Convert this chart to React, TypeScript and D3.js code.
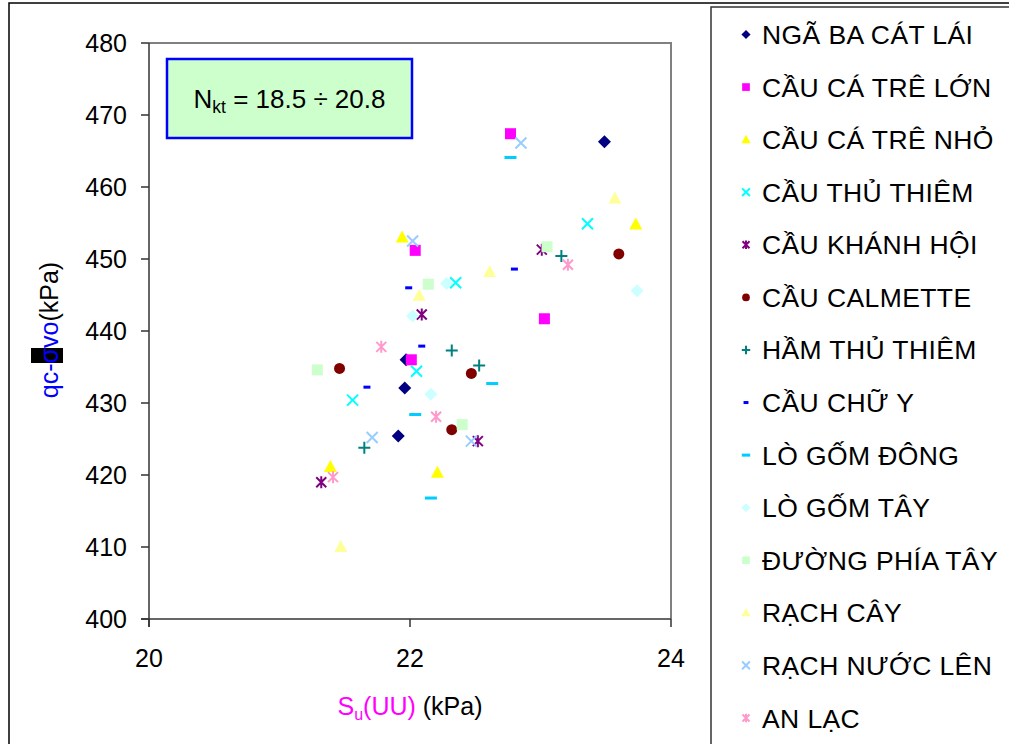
import * as d3 from 'd3';

// ─── Data ───────────────────────────────────────────────────

const seriesNames = [
  'NGÃ BA CÁT LÁI',
  'CẦU CÁ TRÊ LỚN',
  'CẦU CÁ TRÊ NHỎ',
  'CẦU THỦ THIÊM',
  'CẦU KHÁNH HỘI',
  'CẦU CALMETTE',
  'HẦM THỦ THIÊM',
  'CẦU CHỮ Y',
  'LÒ GỐM ĐÔNG',
  'LÒ GỐM TÂY',
  'ĐƯỜNG PHÍA TÂY',
  'RẠCH CÂY',
  'RẠCH NƯỚC LÊN',
  'AN LẠC',
];

// Su(UU), kPa
const suValues = [
  [23.49, 21.97, 21.96, 21.91],
  [22.77, 22.04, 22.01, 23.03],
  [21.94, 23.73, 21.39, 22.21],
  [23.36, 22.35, 22.05, 21.56],
  [23.01, 22.09, 22.52, 21.32],
  [23.6, 21.46, 22.47, 22.32],
  [23.16, 22.32, 22.53, 21.65],
  [22.8, 21.99, 22.09, 21.67],
  [22.77, 22.63, 22.04, 22.16],
  [23.74, 22.28, 22.02, 22.16],
  [23.05, 22.14, 21.29, 22.4],
  [23.57, 22.61, 22.07, 21.47],
  [22.85, 22.02, 21.71, 22.47],
  [23.21, 21.78, 22.2, 21.41],
];

// qc - σvo, kPa
const qValues = [
  [466.3, 436.0, 432.1, 425.4],
  [467.4, 451.2, 436.0, 441.7],
  [453.0, 454.8, 421.1, 420.3],
  [454.9, 446.7, 434.4, 430.4],
  [451.3, 442.3, 424.7, 419.0],
  [450.7, 434.8, 434.1, 426.3],
  [450.4, 437.3, 435.2, 423.8],
  [448.6, 446.0, 437.9, 432.2],
  [464.1, 432.7, 428.4, 416.8],
  [445.6, 446.6, 442.1, 431.2],
  [451.7, 446.5, 434.6, 427.0],
  [458.4, 448.2, 444.9, 410.0],
  [466.1, 452.5, 425.2, 424.7],
  [449.2, 437.8, 428.1, 419.7],
];

const xTicks = [20, 22, 24];
const yTicks = [400, 410, 420, 430, 440, 450, 460, 470, 480];

// ─── Styles ─────────────────────────────────────────────────

const markerStyles = [
  { shape: 'diamond', color: '#000080' },
  { shape: 'square', color: '#FF00FF' },
  { shape: 'triangle', color: '#FFFF00' },
  { shape: 'x', color: '#00FFFF' },
  { shape: 'star', color: '#800080' },
  { shape: 'circle', color: '#800000' },
  { shape: 'plus', color: '#008080' },
  { shape: 'dash', color: '#0000FF' },
  { shape: 'longdash', color: '#00CCFF' },
  { shape: 'diamond', color: '#CCFFFF' },
  { shape: 'square', color: '#CCFFCC' },
  { shape: 'triangle', color: '#FFFF99' },
  { shape: 'x', color: '#99CCFF' },
  { shape: 'star', color: '#FF99CC' },
];

const FONT = '"Liberation Sans", Arial, Helvetica, sans-serif';
const W = 1009;
const H = 744;
const plot = { left: 149, right: 671, top: 43, bottom: 619 };

function Marker({ shape, color, cx, cy, s }: { shape: string; color: string; cx: number; cy: number; s: number }) {
  const sw = 2;
  switch (shape) {
    case 'diamond':
      return <path d={`M${cx},${cy - 6.5 * s}L${cx + 6.5 * s},${cy}L${cx},${cy + 6.5 * s}L${cx - 6.5 * s},${cy}Z`} fill={color} />;
    case 'square':
      return <rect x={cx - 5.5 * s} y={cy - 5.5 * s} width={11 * s} height={11 * s} fill={color} />;
    case 'triangle':
      return <path d={`M${cx},${cy - 7 * s}L${cx + 6.5 * s},${cy + 5 * s}L${cx - 6.5 * s},${cy + 5 * s}Z`} fill={color} />;
    case 'x':
      return (
        <path d={`M${cx - 5.5 * s},${cy - 5.5 * s}L${cx + 5.5 * s},${cy + 5.5 * s}M${cx + 5.5 * s},${cy - 5.5 * s}L${cx - 5.5 * s},${cy + 5.5 * s}`}
          stroke={color} strokeWidth={sw} fill="none" />
      );
    case 'star':
      return (
        <path d={`M${cx - 5 * s},${cy - 5 * s}L${cx + 5 * s},${cy + 5 * s}M${cx + 5 * s},${cy - 5 * s}L${cx - 5 * s},${cy + 5 * s}M${cx},${cy - 6 * s}L${cx},${cy + 6 * s}`}
          stroke={color} strokeWidth={sw} fill="none" />
      );
    case 'circle':
      return <circle cx={cx} cy={cy} r={5.5 * s} fill={color} />;
    case 'plus':
      return (
        <path d={`M${cx - 6 * s},${cy}L${cx + 6 * s},${cy}M${cx},${cy - 6 * s}L${cx},${cy + 6 * s}`}
          stroke={color} strokeWidth={sw} fill="none" />
      );
    case 'dash':
      return <rect x={cx - 3.5 * s} y={cy - 1.5} width={7 * s} height={3} fill={color} />;
    case 'longdash':
      return <rect x={cx - 6 * s} y={cy - 1.5} width={12 * s} height={3} fill={color} />;
    default:
      return null;
  }
}

export default function App() {
  const x = d3.scaleLinear().domain([20, 24]).range([plot.left, plot.right]);
  const y = d3.scaleLinear().domain([400, 480]).range([plot.bottom, plot.top]);

  const legendRow = d3.scalePoint<number>()
    .domain(d3.range(seriesNames.length))
    .range([34.5, 718]);

  return (
    <svg width={W} height={H} style={{ position: 'absolute', left: 0, top: 0, fontFamily: FONT }}>
      <rect x={0} y={0} width={W} height={H} fill="#fff" />
      {/* chart frame */}
      <rect x={9} y={3} width={W + 100} height={H + 100} fill="none" stroke="#000" strokeWidth={1.5} />

      {/* plot area border (top/right) */}
      <path d={`M${plot.left},${plot.top}H${plot.right}V${plot.bottom}`} fill="none" stroke="#808080" strokeWidth={2} />

      {/* y axis */}
      <line x1={plot.left} x2={plot.left} y1={plot.top} y2={plot.bottom + 8} stroke="#333" strokeWidth={1.5} />
      {yTicks.map((t) => (
        <g key={t}>
          <line x1={plot.left - 8} x2={plot.left} y1={y(t)} y2={y(t)} stroke="#333" strokeWidth={1.5} />
          <text x={127} y={y(t) + 9} textAnchor="end" fontSize={25} fill="#000">{t}</text>
        </g>
      ))}

      {/* x axis */}
      <line x1={plot.left - 8} x2={plot.right} y1={plot.bottom} y2={plot.bottom} stroke="#333" strokeWidth={1.5} />
      {xTicks.map((t) => (
        <g key={t}>
          <line x1={x(t)} x2={x(t)} y1={plot.bottom} y2={plot.bottom + 8} stroke="#333" strokeWidth={1.5} />
          <text x={x(t)} y={667} textAnchor="middle" fontSize={25} fill="#000">{t}</text>
        </g>
      ))}

      {/* annotation */}
      <rect x={167} y={59} width={245} height={79} fill="#CCFFCC" stroke="#0000FF" strokeWidth={2.5} />
      <text x={289.5} y={108} textAnchor="middle" fontSize={26} fill="#000">
        N<tspan fontSize={17.5} dy={5}>kt</tspan><tspan dy={-5}> = 18.5 ÷ 20.8</tspan>
      </text>

      {/* points */}
      {suValues.map((xs, i) => (
        <g key={seriesNames[i]}>
          {xs.map((v, j) => (
            <Marker key={j} shape={markerStyles[i].shape} color={markerStyles[i].color}
              cx={x(v)} cy={y(qValues[i][j])} s={1} />
          ))}
        </g>
      ))}

      {/* axis titles */}
      <text x={410} y={715} textAnchor="middle" fontSize={25}>
        <tspan fill="#FF00FF">S</tspan>
        <tspan fill="#FF00FF" fontSize={16} dy={5}>u</tspan>
        <tspan fill="#FF00FF" dy={-5}>(UU)</tspan>
        <tspan fill="#000"> (kPa)</tspan>
      </text>
      <rect x={31} y={348} width={32} height={15} fill="#000" />
      <text transform="translate(58,330) rotate(-90)" textAnchor="middle" fontSize={25}>
        <tspan fill="#0000FF">qc-σvo</tspan>
        <tspan fill="#000">(kPa)</tspan>
      </text>

      {/* legend */}
      <rect x={711} y={7} width={400} height={800} fill="#fff" stroke="#333" strokeWidth={1.5} />
      {seriesNames.map((name, i) => (
        <g key={name}>
          <Marker shape={markerStyles[i].shape} color={markerStyles[i].color}
            cx={746} cy={legendRow(i)!} s={0.7} />
          <text x={762} y={legendRow(i)! + 9.5} fontSize={26.5} letterSpacing={0.4} fill="#000">{name}</text>
        </g>
      ))}
    </svg>
  );
}
